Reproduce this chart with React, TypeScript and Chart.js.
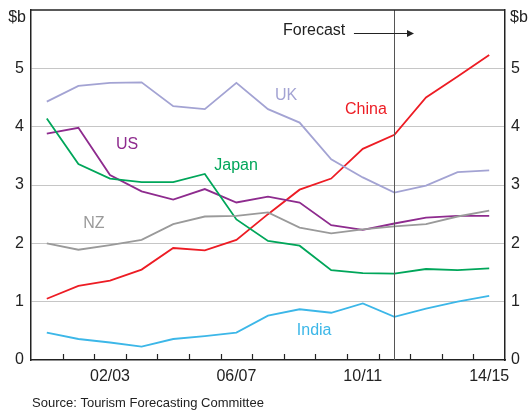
import React, { useEffect, useRef } from "react";
import { Chart, registerables } from "chart.js";

Chart.register(...registerables);

const categories = [
  "00/01", "01/02", "02/03", "03/04", "04/05", "05/06", "06/07", "07/08",
  "08/09", "09/10", "10/11", "11/12", "12/13", "13/14", "14/15",
];
const shownTickLabels = ["02/03", "06/07", "10/11", "14/15"];
const yTicks = [0, 1, 2, 3, 4, 5];

const ukValues = [4.43, 4.7, 4.75, 4.76, 4.35, 4.3, 4.75, 4.3, 4.07, 3.44, 3.13, 2.87, 2.99, 3.22, 3.25];
const chinaValues = [1.05, 1.27, 1.36, 1.55, 1.92, 1.88, 2.06, 2.5, 2.92, 3.11, 3.62, 3.86, 4.5, 4.86, 5.23];
const usValues = [3.88, 3.98, 3.17, 2.89, 2.75, 2.93, 2.7, 2.8, 2.7, 2.31, 2.23, 2.34, 2.44, 2.47, 2.47];
const japanValues = [4.14, 3.36, 3.11, 3.05, 3.05, 3.19, 2.41, 2.04, 1.96, 1.54, 1.49, 1.48, 1.56, 1.54, 1.57];
const nzValues = [2.0, 1.89, 1.97, 2.06, 2.33, 2.46, 2.47, 2.53, 2.27, 2.17, 2.24, 2.29, 2.33, 2.46, 2.56];
const indiaValues = [0.47, 0.36, 0.3, 0.23, 0.36, 0.41, 0.47, 0.76, 0.87, 0.81, 0.97, 0.74, 0.88, 1.0, 1.1];

const forecastIndex = 11;

const COLORS = {
  uk: "#a3a3d3",
  china: "#ed1c24",
  us: "#8e2b8e",
  japan: "#00a65a",
  nz: "#9a9a9a",
  india: "#3cb7e8",
};

// series label annotations: [text, category position, value, colour]
const seriesLabels: [string, number, number, string][] = [
  ["UK", 7.57, 4.53, COLORS.uk],
  ["China", 10.1, 4.29, COLORS.china],
  ["US", 2.54, 3.69, COLORS.us],
  ["Japan", 5.99, 3.33, COLORS.japan],
  ["NZ", 1.49, 2.33, COLORS.nz],
  ["India", 8.46, 0.51, COLORS.india],
];

const FONT = "'Liberation Sans', Arial, sans-serif";

const overlayPlugin = {
  id: "overlay",
  afterDraw(chart: any) {
    const { ctx, chartArea, scales } = chart;
    const x = scales.x;
    const y = scales.y;
    const step = x.getPixelForValue(1) - x.getPixelForValue(0);
    ctx.save();
    // x tick marks (inside, at category boundaries)
    ctx.strokeStyle = "#222";
    ctx.lineWidth = 1.2;
    for (let i = 1; i < categories.length; i++) {
      const px = Math.round(x.getPixelForValue(i) - step / 2) + 0.5;
      ctx.beginPath();
      ctx.moveTo(px, chartArea.bottom);
      ctx.lineTo(px, chartArea.bottom - 6);
      ctx.stroke();
    }
    // forecast line
    const fx = Math.round(x.getPixelForValue(forecastIndex)) + 0.5;
    ctx.strokeStyle = "#555";
    ctx.lineWidth = 1;
    ctx.beginPath();
    ctx.moveTo(fx, chartArea.top);
    ctx.lineTo(fx, chartArea.bottom);
    ctx.stroke();
    // top border
    ctx.strokeStyle = "#222";
    ctx.lineWidth = 1.5;
    ctx.beginPath();
    ctx.moveTo(chartArea.left, chartArea.top);
    ctx.lineTo(chartArea.right, chartArea.top);
    ctx.stroke();

    // series labels
    ctx.font = `16px ${FONT}`;
    ctx.textAlign = "center";
    ctx.textBaseline = "middle";
    for (const [t, xi, v, c] of seriesLabels) {
      ctx.fillStyle = c;
      ctx.fillText(t, x.getPixelForValue(xi), y.getPixelForValue(v));
    }
    // forecast label and arrow
    ctx.fillStyle = "#222";
    ctx.fillText("Forecast", x.getPixelForValue(8.46), y.getPixelForValue(5.64));
    const ay = Math.round(y.getPixelForValue(5.6)) + 0.5;
    const ax0 = x.getPixelForValue(9.72);
    const ax1 = x.getPixelForValue(11.62);
    ctx.strokeStyle = "#222";
    ctx.lineWidth = 1;
    ctx.beginPath();
    ctx.moveTo(ax0, ay);
    ctx.lineTo(ax1 - 6, ay);
    ctx.stroke();
    ctx.beginPath();
    ctx.moveTo(ax1, ay);
    ctx.lineTo(ax1 - 7, ay - 3.5);
    ctx.lineTo(ax1 - 7, ay + 3.5);
    ctx.closePath();
    ctx.fill();

    // $b unit labels
    ctx.font = `16px ${FONT}`;
    ctx.textAlign = "right";
    ctx.fillText("$b", chartArea.left - 5, chartArea.top + 8);
    ctx.textAlign = "left";
    ctx.fillText("$b", chartArea.right + 5, chartArea.top + 8);

    // source
    ctx.font = `13px ${FONT}`;
    ctx.textAlign = "left";
    ctx.fillText("Source: Tourism Forecasting Committee", 32, 403);
    ctx.restore();
  },
};

export default function App() {
  const ref = useRef<HTMLCanvasElement>(null);
  useEffect(() => {
    document.body.style.margin = "0";
    const mk = (label: string, data: number[], color: string) => ({
      label,
      data,
      borderColor: color,
      backgroundColor: color,
      borderWidth: 1.8,
      pointRadius: 0,
      tension: 0,
      fill: false,
    });
    const yTickCb = (v: any) => (yTicks.includes(Number(v)) ? String(v) : "");
    const yGrid = {
      drawTicks: false,
      color: (c: any) =>
        c.tick && (c.tick.value === 0 || c.tick.value === 6) ? "rgba(0,0,0,0)" : "#c6c6c6",
      lineWidth: 1,
    };
    const chart = new Chart(ref.current!, {
      type: "line",
      data: {
        labels: categories,
        datasets: [
          mk("UK", ukValues, COLORS.uk),
          mk("NZ", nzValues, COLORS.nz),
          mk("India", indiaValues, COLORS.india),
          mk("Japan", japanValues, COLORS.japan),
          mk("US", usValues, COLORS.us),
          mk("China", chinaValues, COLORS.china),
        ],
      },
      options: {
        responsive: false,
        animation: false,
        layout: { padding: { top: 10, left: 0, right: 0, bottom: 0 } },
        plugins: { legend: { display: false }, tooltip: { enabled: false } },
        scales: {
          x: {
            type: "category",
            offset: true,
            grid: { display: false, drawTicks: false },
            border: { display: true, color: "#222", width: 1.5 },
            ticks: {
              autoSkip: false,
              maxRotation: 0,
              padding: 7,
              color: "#222",
              font: { family: FONT, size: 16 },
              callback: (_v: any, i: number) =>
                shownTickLabels.includes(categories[i]) ? categories[i] : "",
            },
            afterFit: (s: any) => {
              s.height = 53;
              s.paddingLeft = 0;
              s.paddingRight = 0;
            },
          },
          y: {
            position: "left",
            min: 0,
            max: 6,
            grid: yGrid,
            border: { display: true, color: "#222", width: 1.5 },
            ticks: {
              stepSize: 1,
              padding: 7,
              color: "#222",
              font: { family: FONT, size: 16 },
              callback: yTickCb,
            },
            afterFit: (s: any) => {
              s.width = 31;
              s.paddingTop = 0;
              s.paddingBottom = 0;
            },
          },
          y2: {
            position: "right",
            min: 0,
            max: 6,
            grid: { display: false, drawTicks: false },
            border: { display: true, color: "#222", width: 1.5 },
            ticks: {
              stepSize: 1,
              padding: 6,
              color: "#222",
              font: { family: FONT, size: 16 },
              callback: yTickCb,
            },
            afterFit: (s: any) => {
              s.width = 25;
              s.paddingTop = 0;
              s.paddingBottom = 0;
            },
          },
        },
      },
      plugins: [overlayPlugin],
    } as any);
    return () => chart.destroy();
  }, []);
  return <canvas ref={ref} width={530} height={413} style={{ display: "block" }} />;
}
